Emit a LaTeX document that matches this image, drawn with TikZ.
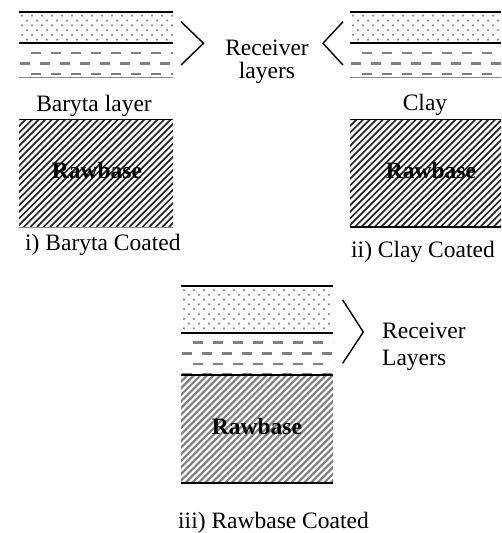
\documentclass[tikz,border=0pt]{standalone}
\usepackage{fontspec}
\setmainfont{Liberation Serif}
\newcommand{\myhatchbox}[6]{%
  \begin{scope}
    \clip (#1,#2) rectangle (#3,#4);
    \foreach \k in {0,...,55}{
      \draw[#5, line width=#6] ({#1-(#4-#2)+6.6*\k}, #4) -- ++({#4-#2}, {-(#4-#2)});
    }
  \end{scope}}
\newcommand{\mydotbox}[4]{%
  \begin{scope}
    \clip (#1,#2) rectangle (#3,#4);
    \foreach \r in {0,...,10}{
      \foreach \c in {0,...,17}{
        \fill[black!45] ({#1+3+10*\c+5*mod(\r,2)}, {#2+4+4.8*\r}) circle (1.25pt);
      }
    }
  \end{scope}}
\newcommand{\mydashbox}[4]{%
  \begin{scope}
    \clip (#1,#2) rectangle (#3,#4);
    \foreach \r in {0,...,5}{
      \foreach \c in {0,...,8}{
        \draw[black!50, line width=2.6pt] ({#1+1+11*mod(\r,2)+20*\c}, {#2-1+10.6*\r}) -- ++(9.5,0);
      }
    }
  \end{scope}}
\begin{document}
\begin{tikzpicture}[x=1pt,y=-1pt,
  layerline/.style={line width=1.8pt},
  thinline/.style={line width=0.8pt, black!45},
  bracket/.style={line width=1.4pt, line join=miter},
  lbl/.style={font=\fontsize{23.5}{27}\selectfont, inner sep=0pt, anchor=base},
  boldlbl/.style={lbl, font=\fontsize{23.5}{27}\selectfont\bfseries}]
\useasboundingbox (0,0) rectangle (501,533);

% ---------- panel i ----------
\mydotbox{19}{11.7}{173}{43.3}
\mydashbox{19}{43.3}{173}{77}
\myhatchbox{19}{119.5}{173}{227}{black!85}{1.7pt}
\draw[layerline] (19,11.7) -- (173,11.7);
\draw[layerline] (19,43.3) -- (173,43.3);
\draw[thinline] (19,77) -- (173,77);
\draw[layerline] (19,119.5) -- (173,119.5);
\draw[thinline] (19,227) -- (173,227);
\node[lbl] (baryta) at (94,111) {Baryta layer};
\node[boldlbl] (raw1) at (97,178) {Rawbase};
\node[lbl, anchor=base west] (cap1) at (25,250) {i) Baryta Coated};

% ---------- panel ii ----------
\mydotbox{350}{11.7}{501}{43.3}
\mydashbox{350}{43.3}{501}{77}
\myhatchbox{350}{119.5}{501}{227}{black!85}{1.7pt}
\draw[layerline] (350,11.7) -- (501,11.7);
\draw[layerline] (350,43.3) -- (501,43.3);
\draw[thinline] (350,77) -- (501,77);
\draw[layerline] (350,119.5) -- (501,119.5);
\draw[layerline] (350,227) -- (501,227);
\node[lbl] (clay) at (425,110.5) {Clay};
\node[boldlbl] (raw2) at (431,178) {Rawbase};
\node[lbl, anchor=base west] (cap2) at (351,257) {ii) Clay Coated};

% ---------- receiver layers (top) ----------
\coordinate (b1a) at (181,21.7);
\coordinate (b1v) at (203.5,43.3);
\coordinate (b1b) at (181,65);
\draw[bracket] (b1a) -- (b1v) -- (b1b);
\coordinate (b2a) at (343,21.7);
\coordinate (b2v) at (323,43.3);
\coordinate (b2b) at (343,65);
\draw[bracket] (b2a) -- (b2v) -- (b2b);
\node[lbl] (rec1) at (267,55) {Receiver};
\node[lbl] (lay1) at (267,78.3) {layers};

% ---------- panel iii ----------
\mydotbox{181}{286}{333}{333}
\mydashbox{181}{333}{333}{375}
\myhatchbox{181}{375}{333}{483}{black!50}{2.2pt}
\draw[layerline] (181,286) -- (333,286);
\draw[layerline] (181,333) -- (333,333);
\draw[layerline] (181,375) -- (333,375);
\draw[layerline] (181,483) -- (333,483);
\node[boldlbl] (raw3) at (257,434) {Rawbase};
\node[lbl, anchor=base west] (cap3) at (178,528) {iii) Rawbase Coated};
\coordinate (b3a) at (342.7,300);
\coordinate (b3v) at (363.3,332);
\coordinate (b3b) at (342.7,363.3);
\draw[bracket] (b3a) -- (b3v) -- (b3b);
\node[lbl, anchor=base west] (rec3) at (382,338.5) {Receiver};
\node[lbl, anchor=base west] (lay3) at (382,365.5) {Layers};
\end{tikzpicture}
\end{document}
